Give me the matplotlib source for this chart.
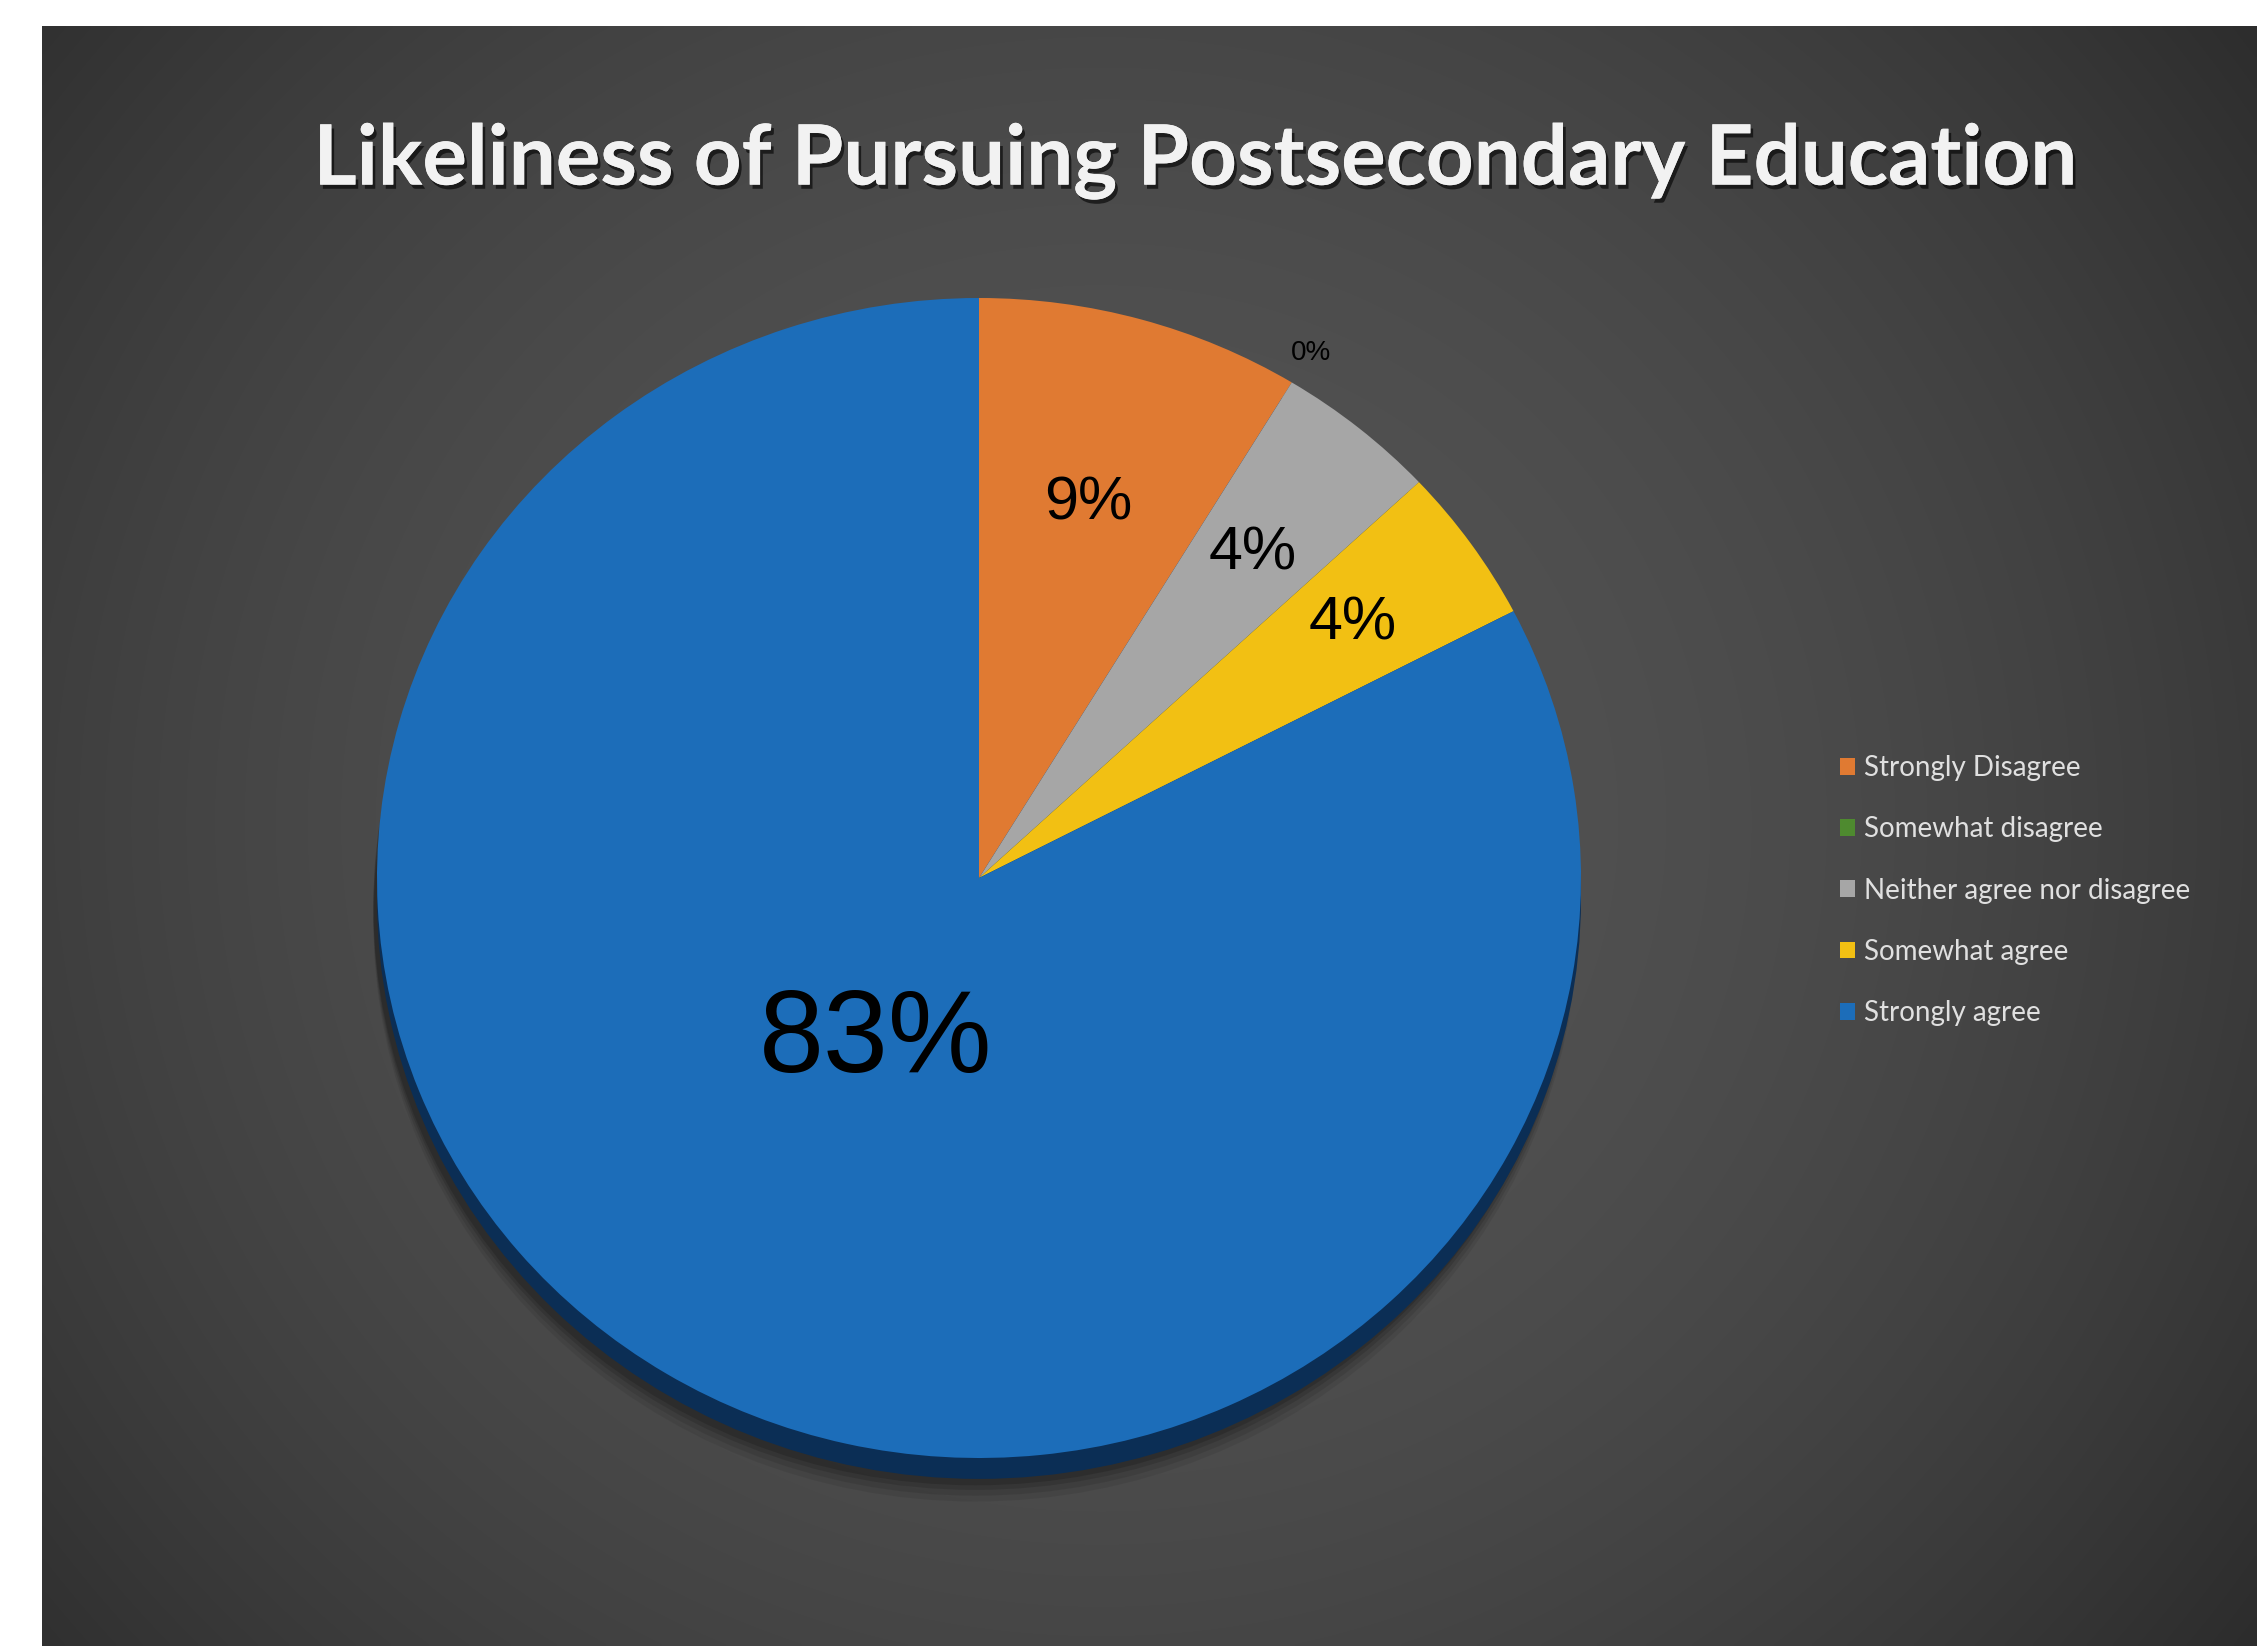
import matplotlib.pyplot as plt
import matplotlib.patheffects as pe
from matplotlib.patches import Ellipse
import numpy as np

# survey answers (respondent counts)
categories = ['Strongly Disagree', 'Somewhat disagree', 'Neither agree nor disagree',
              'Somewhat agree', 'Strongly agree']
counts = [2, 0, 1, 1, 19]
colors = ['#E07A32', '#4E8A2F', '#A6A6A6', '#F2C013', '#1C6DB9']

W, H = 2257, 1646
fig = plt.figure(figsize=(W / 100, H / 100), dpi=100)
fig.patch.set_facecolor('white')

# background with radial gradient (pixel coords)
bg = fig.add_axes([0, 0, 1, 1])
bg.set_xlim(0, W)
bg.set_ylim(H, 0)
bg.axis('off')
x0, y0 = 42, 26
yy, xx = np.mgrid[y0:H:4, x0:W:4]
d = np.hypot(xx - 1100, (yy - 820) / 0.95) / 1500
d = np.clip(d, 0, 1)
v = 0.33 - (0.33 - 0.16) * d ** 2
img = np.dstack([v, v, v])
bg.imshow(img, extent=(x0, W, H, y0), aspect='auto', interpolation='bilinear')

# title
bg.text(1195, 162, 'Likeliness of Pursuing Postsecondary Education', ha='center', va='center',
        fontsize=60, fontweight='bold', family='Lato', color='#F2F2F2',
        path_effects=[pe.withSimplePatchShadow(offset=(2, -3), shadow_rgbFace='black', alpha=0.6),
                      pe.Normal()])

# pie (elliptical, slight depth at the bottom)
left, right, top, bottom = 377, 1581, 298, 1458
ax = fig.add_axes([left / W, 1 - bottom / H, (right - left) / W, (bottom - top) / H])
ax.patch.set_visible(False)

# soft drop shadow + dark rim
for off, a in [(0.075, 0.07), (0.065, 0.09), (0.055, 0.12), (0.047, 0.15)]:
    ax.add_patch(Ellipse((-0.006, -off), 2.0, 2.0, facecolor='black',
                         alpha=a, edgecolor='none', clip_on=False, zorder=0))
ax.add_patch(Ellipse((0, -0.036), 2, 2, facecolor='#0B2E55', edgecolor='none',
                     clip_on=False, zorder=1))

wedges, _ = ax.pie(counts, colors=colors, startangle=90, counterclock=False,
                   wedgeprops=dict(linewidth=0, zorder=2))
ax.set_aspect('auto')
ax.set_xlim(-1, 1)
ax.set_ylim(-1, 1)
ax.axis('off')

total = sum(counts)
label_r = [0.67, 1.06, 0.72, 0.76, 0.33]
label_size = [44, 20, 44, 44, 84]
for w, c, r, s in zip(wedges, counts, label_r, label_size):
    mid = np.deg2rad((w.theta1 + w.theta2) / 2)
    ax.text(r * np.cos(mid), r * np.sin(mid), f'{round(100 * c / total)}%', ha='center',
            va='center', fontsize=s, family='Liberation Sans', color='black', zorder=5)

leg = fig.legend(wedges, categories, loc='upper left', bbox_to_anchor=(1840 / W, 1 - 755 / H),
                 frameon=False, prop=dict(family='Lato', size=20), labelcolor='#E0E0E0',
                 labelspacing=1.27, handlelength=0.55, handleheight=0.55, handletextpad=0.3,
                 borderpad=0, borderaxespad=0)

fig.savefig('out.png', dpi=100)
